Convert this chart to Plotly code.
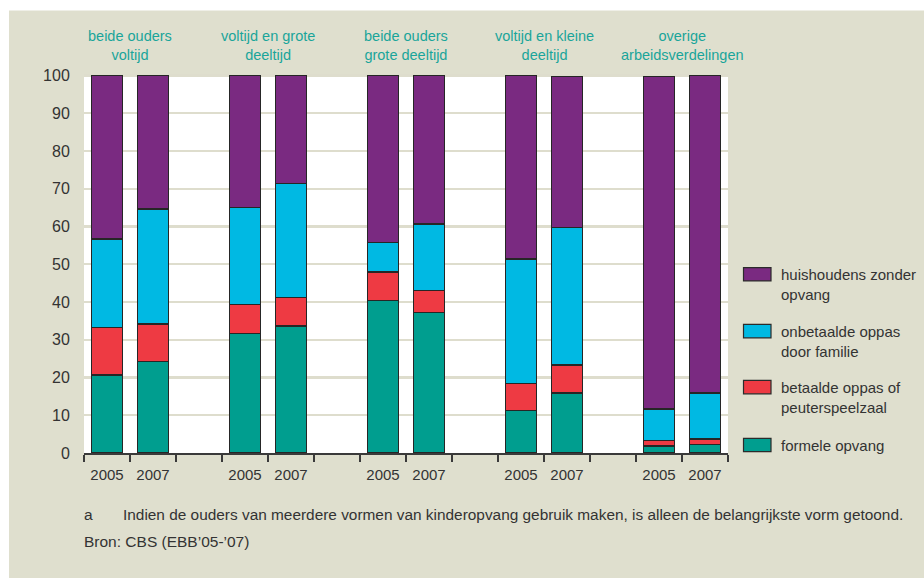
import plotly.graph_objects as go

# ---- data ----
groups = ["beide ouders<br>voltijd", "voltijd en grote<br>deeltijd", "beide ouders<br>grote deeltijd",
          "voltijd en kleine<br>deeltijd", "overige<br>arbeidsverdelingen"]
years = ["2005", "2007"]
series_names = ["formele opvang", "betaalde oppas of<br>peuterspeelzaal",
                "onbetaalde oppas<br>door familie", "huishoudens zonder<br>opvang"]
formele = [20.7, 24.2, 31.7, 33.7, 40.4, 37.2, 11.3, 15.9, 1.8, 2.3]
betaalde = [12.6, 10.0, 7.7, 7.5, 7.6, 5.9, 7.1, 7.4, 1.5, 1.4]
onbetaalde = [23.4, 30.4, 25.6, 30.2, 7.8, 17.6, 33.0, 36.4, 8.3, 12.2]
huishoudens = [43.3, 35.4, 35.0, 28.6, 44.2, 39.3, 48.6, 40.1, 88.2, 84.1]
colors = ["#009E8F", "#EE3A43", "#00B9E3", "#7A2A81"]
footnote = "Indien de ouders van meerdere vormen van kinderopvang gebruik maken, is alleen de belangrijkste vorm getoond."
source = "Bron: CBS (EBB’05-’07)"

# ---- layout geometry ----
W, H = 924, 578
L, R, T, B = 84, 196, 73.5, 125
PW, PH = W - L - R, H - T - B
def px(x): return (x - L) / PW
def py(y): return (H - B - y) / PH

slot = len(years) + 1
xpos = [slot * g + j for g in range(len(groups)) for j in range(len(years))]
xlabels = [years[j] for g in range(len(groups)) for j in range(len(years))]
nslots = slot * len(groups) - 1

fig = go.Figure()
for name, vals, col in zip(series_names, [formele, betaalde, onbetaalde, huishoudens], colors):
    fig.add_trace(go.Bar(x=xpos, y=vals, name=name, width=0.67,
                         marker=dict(color=col, line=dict(color="#262626", width=1.5)),
                         showlegend=False))

font = "Liberation Sans, Arial, sans-serif"
ann = []
for g, label in enumerate(groups):
    ann.append(dict(x=slot * g + (len(years) - 1) / 2, xref="x", y=py(45), yref="paper",
                    text=label, showarrow=False, xanchor="center", yanchor="middle",
                    font=dict(size=14.5, color="#1AA59A", family=font)))

shapes = []
legend_y = [274, 331, 387, 445]
legend_items = list(zip(series_names, colors))[::-1]
for (name, col), cy in zip(legend_items, legend_y):
    shapes.append(dict(type="rect", xref="paper", yref="paper",
                       x0=px(743.5), x1=px(771), y0=py(cy + 6.7), y1=py(cy - 6.7),
                       fillcolor=col, line=dict(color="#2B2B2B", width=1.2)))
    ann.append(dict(x=px(779), y=py(cy - 10.5), xref="paper", yref="paper", text=name,
                    showarrow=False, xanchor="left", yanchor="top", align="left",
                    font=dict(size=15, color="#333333", family=font)))

ann.append(dict(x=px(82), y=py(515), xref="paper", yref="paper", text="a", showarrow=False,
                xanchor="left", yanchor="middle", font=dict(size=15.5, color="#333333", family=font)))
ann.append(dict(x=px(121), y=py(515), xref="paper", yref="paper", text=footnote, showarrow=False,
                xanchor="left", yanchor="middle", font=dict(size=15.4, color="#333333", family=font)))
ann.append(dict(x=px(82), y=py(542), xref="paper", yref="paper", text=source, showarrow=False,
                xanchor="left", yanchor="middle", font=dict(size=15.5, color="#333333", family=font)))

# white strips outside beige panel
shapes.append(dict(type="rect", xref="paper", yref="paper", x0=px(-5), x1=px(W + 5),
                   y0=py(10), y1=py(-5), fillcolor="white", line=dict(width=0), layer="below"))
shapes.append(dict(type="rect", xref="paper", yref="paper", x0=px(-5), x1=px(9),
                   y0=py(H + 5), y1=py(-5), fillcolor="white", line=dict(width=0), layer="below"))

fig.update_layout(
    width=W, height=H, margin=dict(l=L, r=R, t=T, b=B, pad=0),
    paper_bgcolor="#DFDFCE", plot_bgcolor="white",
    barmode="stack", bargap=0,
    annotations=ann, shapes=shapes,
    font=dict(family=font, color="#333333"),
    xaxis=dict(range=[-0.5, nslots - 0.5], tickmode="array", tickvals=xpos, ticktext=xlabels,
               ticks="outside", ticklen=7, tickcolor="rgba(0,0,0,0)",
               tickfont=dict(size=15, color="#333333"),
               showline=True, linecolor="#3A3A3A", linewidth=1.5, showgrid=False, zeroline=False,
               minor=dict(tickmode="array", tickvals=[i - 0.5 for i in range(nslots + 1)],
                          ticks="outside", ticklen=7, tickcolor="#3A3A3A", tickwidth=1.5,
                          showgrid=False),
               fixedrange=True),
    yaxis=dict(range=[0, 100.4], tickmode="linear", tick0=0, dtick=10,
               ticks="outside", ticklen=10, tickcolor="rgba(0,0,0,0)",
               tickfont=dict(size=16, color="#333333"),
               showgrid=True, gridcolor="#DEDDCD", gridwidth=2.4, zeroline=False, showline=False,
               fixedrange=True),
)

fig.write_html("out.html", config={"displayModeBar": False, "staticPlot": True},
               post_script="document.body.style.margin='0';document.body.style.overflow='hidden';")
